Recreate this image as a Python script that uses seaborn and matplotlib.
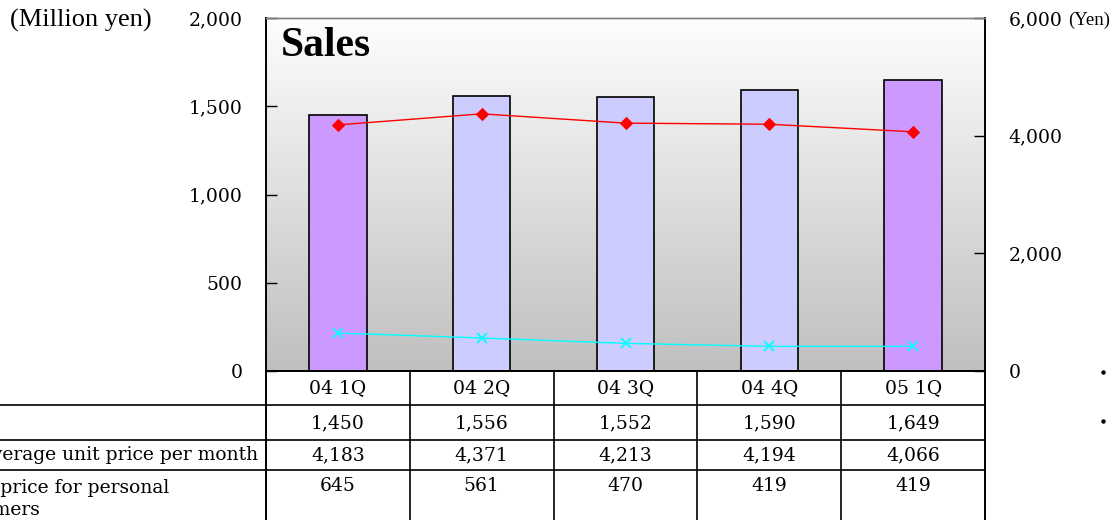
import numpy as np
import matplotlib
matplotlib.use("Agg")
import matplotlib.pyplot as plt
from matplotlib.lines import Line2D
import seaborn as sns

# Quarterly figures
quarters = ["04 1Q", "04 2Q", "04 3Q", "04 4Q", "05 1Q"]
sales = [1450, 1556, 1552, 1590, 1649]                 # million yen (left axis)
avg_unit_price = [4183, 4371, 4213, 4194, 4066]        # yen (right axis)
personal_unit_price = [645, 561, 470, 419, 419]        # yen (right axis)
bar_colors = ["#cc99ff", "#ccccff", "#ccccff", "#ccccff", "#cc99ff"]
left_ticks = [0, 500, 1000, 1500, 2000]
right_ticks = [0, 2000, 4000, 6000]
row_labels = ["Average unit price per month", "Unit price for personal", "customers"]

sns.set_theme(style="white")
plt.rcParams["font.family"] = ["DejaVu Serif"]
plt.rcParams["text.color"] = "black"

W, H = 1119, 520
fig = plt.figure(figsize=(W / 100, H / 100), dpi=100)
fig.patch.set_facecolor("white")

x0, x1, y_top, y_bot = 266, 985, 18, 371
ax = fig.add_axes([x0 / W, 1 - y_bot / H, (x1 - x0) / W, (y_bot - y_top) / H])

# Plot-area gradient: light at the top, grey at the bottom
grad = np.linspace(0, 1, 256).reshape(-1, 1)
top_c = np.array([0.995, 0.995, 0.995])
bot_c = np.array([0.75, 0.75, 0.75])
img = top_c + (bot_c - top_c) * grad[..., None]
ax.imshow(img, extent=[-0.5, 4.5, 0, 2000], aspect="auto", origin="upper", zorder=0)

sns.barplot(x=quarters, y=sales, hue=quarters, palette=bar_colors, legend=False,
            width=0.4, edgecolor="black", linewidth=1.2, saturation=1, ax=ax, zorder=2)
ax.set_xlim(-0.5, 4.5)
ax.set_ylim(0, 2000)
ax.set_yticks(left_ticks)
ax.set_yticklabels([f"{v:,}" for v in left_ticks])
ax.set_xticks([])
ax.set_xlabel("")
ax.set_ylabel("")
fs = 13.5
ax.tick_params(axis="y", direction="in", length=8, width=1, pad=17, labelsize=fs,
               colors="black", left=True)

ax2 = ax.twinx()
xs = np.arange(len(quarters))
sns.lineplot(x=xs, y=avg_unit_price, color="red", marker="D", markersize=6,
             markeredgecolor="red", linewidth=1, ax=ax2, zorder=3)
sns.lineplot(x=xs, y=personal_unit_price, color="cyan", marker="x", markersize=7,
             markeredgecolor="cyan", markeredgewidth=1.3, linewidth=1, ax=ax2, zorder=3)
ax2.set_ylim(0, 6000)
ax2.set_xlim(-0.5, 4.5)
ax2.set_yticks(right_ticks)
ax2.set_yticklabels([f"{v:,}" for v in right_ticks])
ax2.tick_params(axis="y", direction="in", length=8, width=1, pad=17, labelsize=fs,
                colors="black", right=True)
ax2.grid(False)
ax.grid(False)

for a in (ax, ax2):
    for side, sp in a.spines.items():
        sp.set_visible(True)
        sp.set_color("black")
        sp.set_linewidth(1.2)
    a.spines["top"].set_color("#808080")
    a.spines["top"].set_linewidth(1)

ax.text(0.02, 0.975, "Sales", transform=ax.transAxes, fontsize=30, fontweight="bold",
        family="Liberation Serif", va="top", ha="left", color="black")

# Overlay in pixel coordinates for the data table and unit labels
ov = fig.add_axes([0, 0, 1, 1], zorder=5)
ov.set_xlim(0, W)
ov.set_ylim(H, 0)
ov.axis("off")
ov.patch.set_alpha(0)

col_edges = np.linspace(x0, x1, len(quarters) + 1)
row_y = [371, 405, 440, 470]
lc = "black"
for y in row_y[1:]:
    ov.add_line(Line2D([0, x1], [y, y], color=lc, lw=1.2))
ov.add_line(Line2D([x0, x1], [371, 371], color=lc, lw=1.4))
for i, x in enumerate(col_edges):
    lw = 1.4 if i in (0, len(col_edges) - 1) else 1.2
    ov.add_line(Line2D([x, x], [371, H], color=lc, lw=lw))

centers = (col_edges[:-1] + col_edges[1:]) / 2
for c, q, s, a, p in zip(centers, quarters, sales, avg_unit_price, personal_unit_price):
    ov.text(c, 388, q, ha="center", va="center", fontsize=fs)
    ov.text(c, 423, f"{s:,}", ha="center", va="center", fontsize=fs)
    ov.text(c, 455, f"{a:,}", ha="center", va="center", fontsize=fs)
    ov.text(c, 486, f"{p:,}", ha="center", va="center", fontsize=fs)

# Row captions run past the left edge of the figure
ov.text(258, 455, row_labels[0], ha="right", va="center", fontsize=fs)
ov.text(-47, 488, row_labels[1], ha="left", va="center", fontsize=fs)
ov.text(-58, 510, row_labels[2], ha="left", va="center", fontsize=fs)

ov.text(10, 20, "(Million yen)", ha="left", va="center", fontsize=19,
        family="Liberation Serif")
ov.text(1068, 20, "(Yen)", ha="left", va="center", fontsize=13.5,
        family="Liberation Serif")

# Legend markers partly outside the frame
for y in (372, 421):
    ov.plot([1103], [y], marker="o", markersize=2.2, color="black")

fig.savefig("out.png", dpi=100, facecolor="white")
